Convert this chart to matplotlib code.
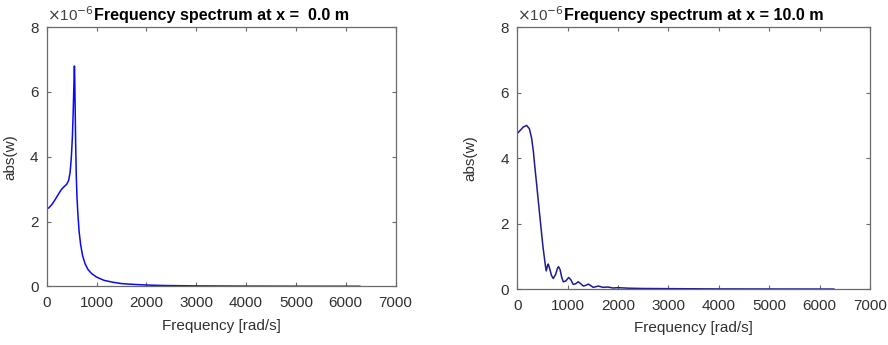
import matplotlib
matplotlib.use("Agg")
import matplotlib.pyplot as plt

plt.rcParams['font.family'] = ['Liberation Sans', 'DejaVu Sans']

## spectrum at x = 0.0 m  (abs(w) in units of 1e-6)
freq_0 = [0, 40, 100, 170, 240, 300, 350, 400, 440, 470, 495, 515, 530, 542, 550, 556,
          562, 570, 580, 592, 606, 625, 650, 680, 720, 770, 830, 900, 1000, 1150,
          1330, 1500, 1680, 2000, 2350, 3000, 4000, 5000, 6283]
amp_0 = [2.40, 2.42, 2.52, 2.68, 2.86, 3.0, 3.08, 3.15, 3.27, 3.52, 4.0, 4.6, 5.3, 6.0, 6.5, 6.8,
         6.5, 5.6, 4.5, 3.5, 2.8, 2.25, 1.7, 1.3, 0.95, 0.7, 0.52, 0.4, 0.29, 0.19,
         0.13, 0.09, 0.07, 0.045, 0.03, 0.018, 0.011, 0.008, 0.006]

## spectrum at x = 10.0 m
freq_10 = [0, 60, 120, 185, 240, 284, 320, 350, 385, 417, 450, 483, 510, 536, 560, 575,
           600, 615, 640, 680, 714, 760, 800, 820, 850, 880, 913, 960, 1019, 1060, 1111,
           1160, 1210, 1260, 1310, 1360, 1409, 1460, 1508, 1560, 1607, 1700, 1800, 1900,
           2000, 2200, 2500, 3000, 4000, 5000, 6283]
amp_10 = [4.75, 4.85, 4.95, 5.0, 4.9, 4.62, 4.2, 3.72, 3.2, 2.7, 2.2, 1.7, 1.3, 0.99, 0.7, 0.56,
          0.72, 0.77, 0.65, 0.42, 0.33, 0.45, 0.65, 0.69, 0.6, 0.38, 0.23, 0.25, 0.36, 0.3, 0.15,
          0.17, 0.23, 0.17, 0.10, 0.12, 0.16, 0.11, 0.06, 0.08, 0.1, 0.06, 0.07, 0.04,
          0.05, 0.035, 0.025, 0.02, 0.012, 0.01, 0.008]

x_ticks = [0, 1000, 2000, 3000, 4000, 5000, 6000, 7000]
y_ticks = [0, 2, 4, 6, 8]
titles = ['Frequency spectrum at x =  0.0 m', 'Frequency spectrum at x = 10.0 m']

fig = plt.figure(figsize=(8.88, 3.45), dpi=100)
ax1 = fig.add_axes([0.0526, 0.1696, 0.3928, 0.752])
ax2 = fig.add_axes([0.5825, 0.1614, 0.3972, 0.7603])

ax1.plot(freq_0, amp_0, color='#0a0af0', lw=1.1)
ax2.plot(freq_10, amp_10, color='#1c1c90', lw=1.1)

for ax, title, ylx in [(ax1, titles[0], -0.084), (ax2, titles[1], -0.113)]:
    ax.set_xlim(0, 7000)
    ax.set_ylim(0, 8)
    ax.set_xticks(x_ticks)
    ax.set_yticks(y_ticks)
    for s in ax.spines.values():
        s.set_color('#6a6a6a')
        s.set_linewidth(0.9)
    ax.tick_params(direction='in', length=3, width=0.8, color='#6a6a6a',
                   labelcolor='#303030', labelsize=11, top=True, right=True)
    ax.tick_params(axis='x', pad=7)
    ax.tick_params(axis='y', pad=6)
    ax.set_title(title, fontsize=11.6, fontweight='bold', pad=5)
    ax.set_xlabel('Frequency [rad/s]', fontsize=11, color='#303030', labelpad=6)
    ax.set_ylabel('abs(w)', fontsize=11, color='#303030')
    ax.yaxis.set_label_coords(ylx, 0.5)
    ax.text(0.0, 1.012, r'$\times$10$^{-6}$', transform=ax.transAxes, fontsize=11,
            color='#404040', ha='left', va='bottom')

plt.savefig('out.png', dpi=100)
plt.close()
